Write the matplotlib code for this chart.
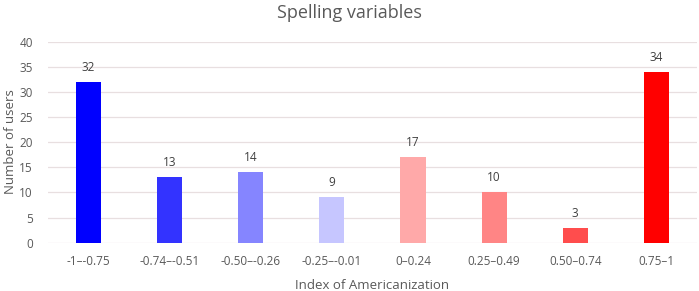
import matplotlib
matplotlib.use("Agg")
import matplotlib.pyplot as plt

# --- Data ---
categories = ["-1–-0.75", "-0.74–-0.51", "-0.50–-0.26", "-0.25–-0.01",
              "0–0.24", "0.25–0.49", "0.50–0.74", "0.75–1"]
users = [32, 13, 14, 9, 17, 10, 3, 34]
bar_colors = ["#0000ff", "#3333ff", "#8585ff", "#c6c6ff",
              "#ffa9a9", "#ff8585", "#ff4d4d", "#ff0000"]

plt.rcParams['font.family'] = ['Open Sans', 'DejaVu Sans']
text_col = "#595959"

fig = plt.figure(figsize=(6.99, 2.91), dpi=100)
ax = fig.add_axes([0.0687, 0.166, 0.9283, 0.691])

x = range(len(categories))
ax.bar(x, users, width=0.31, color=bar_colors, zorder=3)
for xi, v in zip(x, users):
    ax.text(xi, v + 1.6, str(v), ha="center", va="bottom", fontsize=8.5, color="#404040")

ax.set_xlim(-0.5, len(categories) - 0.5)
ax.set_ylim(0, 40)
ax.set_yticks(range(0, 41, 5))
ax.set_xticks(list(x))
ax.set_xticklabels(categories)
ax.tick_params(axis="both", length=0, labelsize=8.5, colors=text_col)
ax.tick_params(axis="x", pad=9)
ax.tick_params(axis="y", pad=11)
ax.grid(axis="y", color="#e8dfe0", lw=0.9, zorder=0)
for s in ax.spines.values():
    s.set_visible(False)

ax.set_xlabel("Index of Americanization", fontsize=9.5, color=text_col, labelpad=8)
# y label placed on the figure so it sits just inside the left edge
fig.text(0.015, 0.512, "Number of users", rotation=90, ha="center", va="center",
         fontsize=9.5, color=text_col)
fig.text(0.5, 0.955, "Spelling variables", ha="center", va="center",
         fontsize=13, color=text_col)

fig.savefig("out.png", dpi=100)
